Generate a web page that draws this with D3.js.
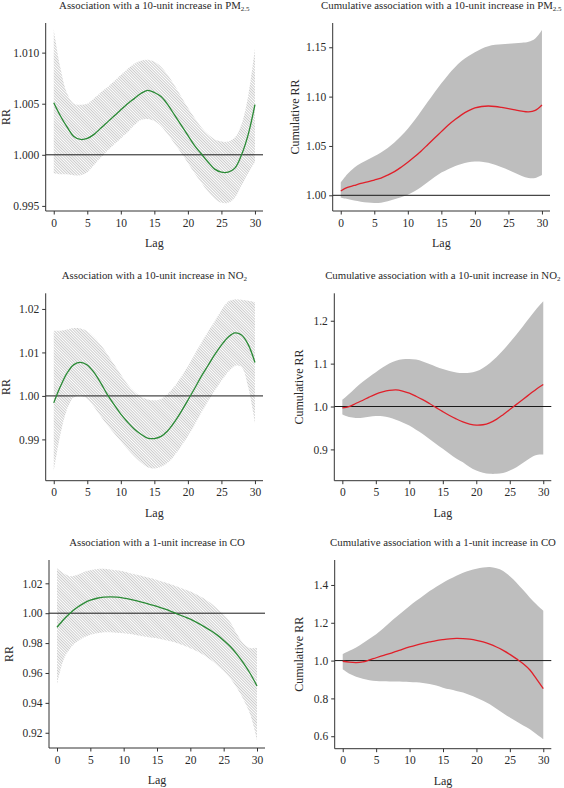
<!DOCTYPE html>
<html><head><meta charset="utf-8">
<script src="https://cdn.jsdelivr.net/npm/d3@7/dist/d3.min.js"></script>
<style>
html,body{margin:0;padding:0;background:#fff;}
svg{display:block;}
text{font-family:"Liberation Serif","Times New Roman",serif;fill:#2a2a2a;}
</style></head>
<body>
<svg id="chart" width="564" height="788"></svg>
<script>
// ---------------- DATA ----------------
const lags = d3.range(0, 31);
const xTicks = [0, 5, 10, 15, 20, 25, 30];

// PM2.5 lag-specific RR
const pm25Fit = [1.0051,1.0038,1.0027,1.0018,1.0015,1.0016,1.0020,1.0026,1.0032,1.0038,1.0044,1.0050,1.0055,1.0060,1.0063,1.0061,1.0057,1.0049,1.0039,1.0029,1.0019,1.0009,1.0001,0.9993,0.9986,0.9983,0.9983,0.9987,1.0000,1.0020,1.0049];
const pm25Hi  = [1.0123,1.0085,1.0060,1.0050,1.0049,1.0050,1.0055,1.0061,1.0066,1.0072,1.0078,1.0084,1.0089,1.0092,1.0093,1.0091,1.0086,1.0078,1.0068,1.0057,1.0046,1.0036,1.0027,1.0020,1.0015,1.0013,1.0013,1.0017,1.0030,1.0058,1.0104];
const pm25Lo  = [0.9982,0.9981,0.9981,0.9980,0.9980,0.9983,0.9990,0.9997,1.0004,1.0010,1.0016,1.0022,1.0029,1.0034,1.0035,1.0033,1.0028,1.0020,1.0011,1.0002,0.9992,0.9982,0.9973,0.9964,0.9957,0.9953,0.9953,0.9958,0.9970,0.9982,0.9993];
const pm25Ticks = [0.995, 1.000, 1.005, 1.010];
const pm25Domain = [0.9945, 1.0129];

// PM2.5 cumulative RR
const pm25CumFit = [1.0044,1.0080,1.0100,1.0120,1.0135,1.0155,1.0175,1.0205,1.0240,1.0285,1.0335,1.0390,1.0450,1.0515,1.0580,1.0645,1.0710,1.0765,1.0815,1.0855,1.0885,1.0900,1.0905,1.0900,1.0890,1.0878,1.0865,1.0852,1.0845,1.0860,1.0915];
const pm25CumHi  = [1.0128,1.0215,1.0280,1.0325,1.0360,1.0395,1.0435,1.0480,1.0535,1.0600,1.0675,1.0760,1.0855,1.0950,1.1045,1.1135,1.1220,1.1295,1.1360,1.1410,1.1450,1.1485,1.1510,1.1525,1.1530,1.1535,1.1540,1.1545,1.1555,1.1590,1.1676];
const pm25CumLo  = [0.9975,0.9962,0.9948,0.9936,0.9926,0.9922,0.9925,0.9940,0.9960,0.9980,1.0005,1.0040,1.0085,1.0135,1.0185,1.0230,1.0265,1.0295,1.0318,1.0335,1.0342,1.0340,1.0330,1.0310,1.0285,1.0257,1.0225,1.0195,1.0175,1.0175,1.0205];
const pm25CumTicks = [1.00, 1.05, 1.10, 1.15];
const pm25CumDomain = [0.9841, 1.1746];

// NO2 lag-specific RR
const no2Fit = [0.9984,1.0022,1.0053,1.0072,1.0077,1.0071,1.0054,1.0030,1.0003,0.9980,0.9958,0.9940,0.9924,0.9912,0.9903,0.9902,0.9907,0.9920,0.9940,0.9964,0.9990,1.0017,1.0045,1.0070,1.0095,1.0117,1.0135,1.0145,1.0140,1.0118,1.0077];
const no2Hi  = [1.0150,1.0150,1.0153,1.0156,1.0155,1.0149,1.0135,1.0118,1.0096,1.0072,1.0049,1.0027,1.0010,0.9998,0.9992,0.9990,0.9993,1.0005,1.0022,1.0044,1.0068,1.0095,1.0122,1.0148,1.0172,1.0197,1.0217,1.0222,1.0221,1.0219,1.0216];
const no2Lo  = [0.9827,0.9912,0.9970,0.9997,1.0001,0.9993,0.9975,0.9953,0.9933,0.9914,0.9896,0.9878,0.9861,0.9847,0.9836,0.9833,0.9837,0.9846,0.9863,0.9884,0.9907,0.9933,0.9961,0.9988,1.0012,1.0035,1.0055,1.0069,1.0066,1.0020,0.9938];
const no2Ticks = [0.99, 1.00, 1.01, 1.02];
const no2Domain = [0.9805, 1.0236];

// NO2 cumulative RR
const no2CumFit = [0.9970,1.0000,1.0070,1.0140,1.0220,1.0290,1.0340,1.0375,1.0388,1.0360,1.0310,1.0240,1.0160,1.0070,0.9975,0.9880,0.9790,0.9710,0.9640,0.9590,0.9565,0.9575,0.9620,0.9700,0.9810,0.9930,1.0050,1.0170,1.0290,1.0410,1.0513];
const no2CumHi  = [1.0155,1.0290,1.0440,1.0570,1.0690,1.0800,1.0910,1.1005,1.1070,1.1100,1.1110,1.1095,1.1050,1.0990,1.0930,1.0875,1.0830,1.0795,1.0780,1.0785,1.0820,1.0900,1.1010,1.1150,1.1310,1.1490,1.1680,1.1880,1.2080,1.2280,1.2455];
const no2CumLo  = [0.9813,0.9755,0.9735,0.9738,0.9760,0.9780,0.9775,0.9745,0.9690,0.9630,0.9560,0.9460,0.9360,0.9240,0.9125,0.9013,0.8900,0.8790,0.8700,0.8590,0.8508,0.8455,0.8430,0.8430,0.8450,0.8510,0.8586,0.8690,0.8796,0.8870,0.8880];
const no2CumTicks = [0.9, 1.0, 1.1, 1.2];
const no2CumDomain = [0.827, 1.264];

// CO lag-specific RR
const coFit = [0.9906,0.9958,1.0002,1.0038,1.0066,1.0087,1.0100,1.0107,1.0109,1.0107,1.0101,1.0093,1.0083,1.0071,1.0058,1.0045,1.0030,1.0014,0.9996,0.9978,0.9960,0.9937,0.9912,0.9885,0.9855,0.9818,0.9777,0.9725,0.9665,0.9595,0.9513];
const coHi  = [1.0301,1.0268,1.0248,1.0255,1.0275,1.0287,1.0295,1.0297,1.0293,1.0287,1.0279,1.0268,1.0257,1.0246,1.0235,1.0223,1.0208,1.0194,1.0179,1.0162,1.0145,1.0124,1.0100,1.0070,1.0033,0.9995,0.9940,0.9860,0.9795,0.9766,0.9770];
const coLo  = [0.9520,0.9690,0.9765,0.9810,0.9838,0.9855,0.9866,0.9873,0.9872,0.9869,0.9866,0.9860,0.9852,0.9844,0.9838,0.9833,0.9823,0.9812,0.9800,0.9784,0.9766,0.9745,0.9720,0.9690,0.9654,0.9613,0.9565,0.9500,0.9420,0.9320,0.9152];
const coTicks = [0.92, 0.94, 0.96, 0.98, 1.00, 1.02];
const coDomain = [0.9098, 1.0356];

// CO cumulative RR
const coCumFit = [0.9965,0.9915,0.9895,0.9930,1.0035,1.0150,1.0260,1.0370,1.0490,1.0610,1.0720,1.0820,1.0910,1.0987,1.1060,1.1110,1.1150,1.1170,1.1160,1.1130,1.1075,1.0990,1.0870,1.0720,1.0540,1.0330,1.0090,0.9830,0.9500,0.9020,0.8520];
const coCumHi  = [1.0335,1.0515,1.0690,1.0920,1.1150,1.1390,1.1680,1.2000,1.2300,1.2600,1.2890,1.3160,1.3420,1.3680,1.3910,1.4120,1.4310,1.4490,1.4650,1.4770,1.4860,1.4920,1.4950,1.4880,1.4740,1.4460,1.4120,1.3730,1.3330,1.2960,1.2630];
const coCumLo  = [0.9540,0.9300,0.9150,0.9040,0.8960,0.8925,0.8905,0.8895,0.8890,0.8880,0.8870,0.8850,0.8810,0.8760,0.8680,0.8570,0.8480,0.8390,0.8310,0.8180,0.8040,0.7870,0.7690,0.7450,0.7220,0.6990,0.6780,0.6570,0.6370,0.6100,0.5840];
const coCumTicks = [0.6, 0.8, 1.0, 1.2, 1.4];
const coCumDomain = [0.534, 1.532];

// ---------------- LAYOUT ----------------
const svg = d3.select("#chart");
const defs = svg.append("defs");
const pat = defs.append("pattern").attr("id","hatch").attr("patternUnits","userSpaceOnUse")
  .attr("width",2).attr("height",2).attr("patternTransform","rotate(-45)");
pat.append("rect").attr("width",2).attr("height",2).attr("fill","#ffffff");
pat.append("line").attr("x1",0.5).attr("y1",0).attr("x2",0.5).attr("y2",2)
  .attr("stroke","#c6c6c6").attr("stroke-width",0.9);

const panels = [
  {x0:45.7, x1:263, y0:23, y1:211, fit:pm25Fit, hi:pm25Hi, lo:pm25Lo, ticks:pm25Ticks, dom:pm25Domain, fmt:".3f",
   title:["Association with a 10-unit increase in PM","2.5"], ylab:"RR", ylabX:10, cum:false},
  {x0:332.7, x1:550, y0:23, y1:211, fit:pm25CumFit, hi:pm25CumHi, lo:pm25CumLo, ticks:pm25CumTicks, dom:pm25CumDomain, fmt:".2f",
   title:["Cumulative association with a 10-unit increase in PM","2.5"], ylab:"Cumulative RR", ylabX:299, cum:true},
  {x0:45.7, x1:263, y0:293.3, y1:480.7, fit:no2Fit, hi:no2Hi, lo:no2Lo, ticks:no2Ticks, dom:no2Domain, fmt:".2f",
   title:["Association with a 10-unit increase in NO","2"], ylab:"RR", ylabX:10, cum:false},
  {x0:334.3, x1:551.3, y0:293.3, y1:480.7, fit:no2CumFit, hi:no2CumHi, lo:no2CumLo, ticks:no2CumTicks, dom:no2CumDomain, fmt:".1f",
   title:["Cumulative association with a 10-unit increase in NO","2"], ylab:"Cumulative RR", ylabX:303, cum:true},
  {x0:49, x1:265, y0:560, y1:748, fit:coFit, hi:coHi, lo:coLo, ticks:coTicks, dom:coDomain, fmt:".2f",
   title:["Association with a 1-unit increase in CO",""], ylab:"RR", ylabX:13, cum:false},
  {x0:334.7, x1:551.3, y0:560, y1:748.7, fit:coCumFit, hi:coCumHi, lo:coCumLo, ticks:coCumTicks, dom:coCumDomain, fmt:".1f",
   title:["Cumulative association with a 1-unit increase in CO",""], ylab:"Cumulative RR", ylabX:303, cum:true}
];

panels.forEach(p => {
  const x = d3.scaleLinear().domain([-1.2, 31.2]).range([p.x0, p.x1]);
  const y = d3.scaleLinear().domain(p.dom).range([p.y1, p.y0]);
  const g = svg.append("g");
  const rows = lags.map((l,i)=>({l, f:p.fit[i], h:p.hi[i], lo:p.lo[i]}));
  const curve = d3.curveCatmullRom.alpha(0.5);
  const area = d3.area().x(d=>x(d.l)).y0(d=>y(d.lo)).y1(d=>y(d.h)).curve(curve);
  g.append("path").datum(rows).attr("d",area)
    .attr("fill", p.cum ? "#bebebe" : "url(#hatch)").attr("stroke","none");
  // reference line at RR = 1
  g.append("line").attr("x1",p.x0).attr("x2",p.x1).attr("y1",y(1)).attr("y2",y(1))
    .attr("stroke","#1a1a1a").attr("stroke-width",1);
  const line = d3.line().x(d=>x(d.l)).y(d=>y(d.f)).curve(curve);
  g.append("path").datum(rows).attr("d",line).attr("fill","none")
    .attr("stroke", p.cum ? "#e0202a" : "#2a8a35").attr("stroke-width",1.3);

  // axes
  const xa = g.append("g").attr("transform",`translate(0,${p.y1})`)
    .call(d3.axisBottom(x).tickValues(xTicks).tickSize(3.5).tickPadding(4).tickSizeOuter(0));
  const ya = g.append("g").attr("transform",`translate(${p.x0},0)`)
    .call(d3.axisLeft(y).tickValues(p.ticks).tickFormat(d3.format(p.fmt)).tickSize(3.5).tickPadding(3).tickSizeOuter(0));
  [xa,ya].forEach(a=>{
    a.select(".domain").attr("stroke","#333").attr("stroke-width",1);
    a.selectAll(".tick line").attr("stroke","#333");
    a.selectAll("text").attr("font-family","Liberation Serif, serif").attr("font-size",11.5).attr("fill","#2a2a2a");
  });
  // domain paths span the whole plot region
  xa.select(".domain").attr("d",`M${p.x0},0H${p.x1}`);
  ya.select(".domain").attr("d",`M0,${p.y0}V${p.y1}`);

  // axis titles
  g.append("text").attr("x",(p.x0+p.x1)/2).attr("y",p.y1+36).attr("text-anchor","middle")
    .attr("font-size",12).text("Lag");
  g.append("text").attr("transform",`translate(${p.ylabX},${(p.y0+p.y1)/2}) rotate(-90)`)
    .attr("text-anchor","middle").attr("font-size",12).text(p.ylab);

  // title
  const t = g.append("text").attr("x",(p.x0+p.x1)/2).attr("y",p.y0-14.5).attr("text-anchor","middle")
    .attr("font-size",10.8);
  t.append("tspan").text(p.title[0]);
  if (p.title[1]) t.append("tspan").attr("font-size",7).attr("dy",2.5).text(p.title[1]);
});
</script>
</body></html>
